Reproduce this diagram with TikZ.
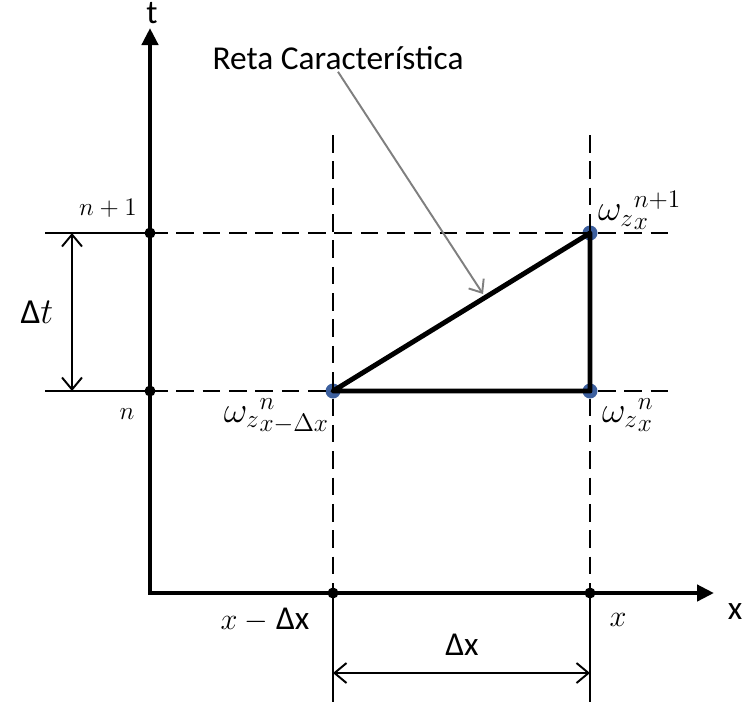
\documentclass[tikz,border=0pt]{standalone}
\usepackage{fontspec}
\setmainfont{Carlito}
\usetikzlibrary{arrows.meta,positioning}
\definecolor{dotblue}{HTML}{3C5F9E}
\definecolor{pointgray}{HTML}{7F7F7F}

\begin{document}
\begin{tikzpicture}[x=0.02cm,y=-0.02cm,
  axis/.style={line width=2.8pt,line join=miter,
    {Triangle[length=3.4mm,width=3.2mm]}-{Triangle[length=3.4mm,width=3.2mm]}},
  grid/.style={line width=1.1pt,dash pattern=on 10pt off 5pt},
  tick/.style={line width=1.1pt},
  side/.style={line width=2.8pt,line join=round},
  dim/.style={line width=1.1pt,
    {Straight Barb[length=2.4mm,width=4mm]}-{Straight Barb[length=2.4mm,width=4mm]}},
  pointer/.style={line width=1.1pt,pointgray,-{Straight Barb[length=2.2mm,width=3.6mm]}},
  knot/.style={circle,fill=black,inner sep=0pt,minimum size=2.2mm},
  bluedot/.style={circle,fill=dotblue,inner sep=0pt,minimum size=3mm},
  lbl/.style={font=\fontsize{19}{22}\selectfont,inner sep=1pt},
  mlbl/.style={font=\fontsize{15}{18}\selectfont,inner sep=1pt},
  wlbl/.style={font=\fontsize{20}{24}\selectfont,inner sep=1pt}
]
\useasboundingbox (0,0) rectangle (742,704);

\coordinate (ttip) at (150,28);
\coordinate (orig) at (150,593);
\coordinate (xtip) at (714,593);
\draw[axis] (ttip) -- (orig) -- (xtip);

\node[knot] (k1) at (150,233) {};
\node[knot] (k0) at (150,391) {};
\node[knot] (ka) at (333,593) {};
\node[knot] (kb) at (590,593) {};

\node[bluedot] (pA) at (333,391) {};
\node[bluedot] (pB) at (590,233) {};
\node[bluedot] (pC) at (590,391) {};

\coordinate (h1) at (45,233);
\coordinate (h0) at (45,391);
\coordinate (e1) at (675,233);
\coordinate (e0) at (675,391);
\draw[tick] (h1) -- (k1.center);
\draw[tick] (h0) -- (k0.center);
\draw[grid] (k1.center) -- (e1);
\draw[grid] (k0.center) -- (e0);

\coordinate (va) at (333,135);
\coordinate (vb) at (590,135);
\coordinate (ba) at (333,702);
\coordinate (bb) at (590,702);
\draw[grid] (va) -- (ka.center);
\draw[grid] (vb) -- (kb.center);
\draw[tick] (ka.center) -- (ba);
\draw[tick] (kb.center) -- (bb);

\draw[side] (pA.center) -- (pB.center) -- (pC.center) -- cycle;

\coordinate (dt1) at (72,233);
\coordinate (dt0) at (72,391);
\draw[dim] (dt1) -- (dt0);
\coordinate (dxa) at (333,673);
\coordinate (dxb) at (590,673);
\draw[dim] (dxa) -- (dxb);

\node[lbl] (reta) at (338,58) {Reta Característica};
\coordinate (hit) at (483,294);
\draw[pointer] (reta.south) -- (hit);

\node[lbl] (tlab) at (152,13) {t};
\node[lbl] (xlab) at (735,612) {x};
\node[mlbl] (np1) at (108,208) {$n+1$};
\node[mlbl] (nlab) at (127,414) {$n$};
\node[wlbl] (dtlab) at (37,312) {Δ$t$};
\node[lbl] (xmdx) at (265,620) {$x\ -$ Δx};
\node[lbl] (xpos) at (618,620) {$x$};
\node[lbl] (dxlab) at (462,645) {Δx};

\node[wlbl,anchor=north east] (wA) at (331,396) {${\omega_z}^{n}_{x-\Delta x}$};
\node[wlbl,anchor=south west] (wB) at (596,232) {${\omega_z}_{x}^{n+1}$};
\node[wlbl,anchor=north west] (wC) at (600,396) {${\omega_z}^{n}_{x}$};
\end{tikzpicture}
\end{document}
